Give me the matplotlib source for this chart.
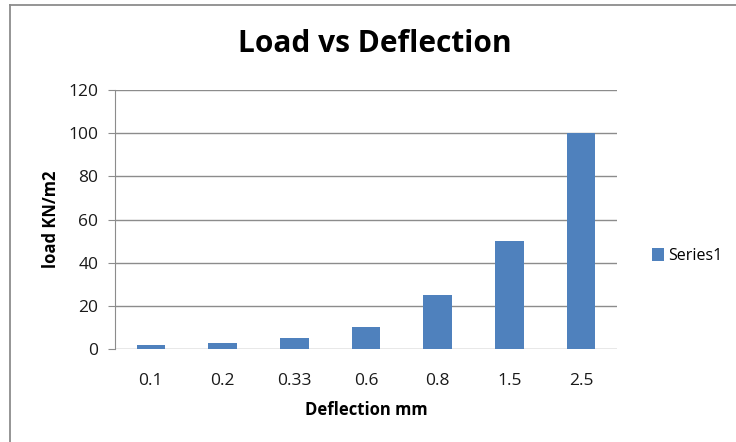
import matplotlib
matplotlib.use("Agg")
import matplotlib.pyplot as plt
from matplotlib.lines import Line2D
import numpy as np

plt.rcParams["font.family"] = ["Open Sans", "DejaVu Sans"]

deflection = ["0.1", "0.2", "0.33", "0.6", "0.8", "1.5", "2.5"]
load = [2, 3, 5, 10, 25, 50, 100]
series_name = "Series1"
yticks = [0, 20, 40, 60, 80, 100, 120]

W, H = 736, 442
fig = plt.figure(figsize=(W / 100, H / 100), dpi=100)
fig.patch.set_facecolor("white")

# chart-area border: only the top and left edges are inside the crop
fig.add_artist(Line2D([10 / W, 10 / W], [0, 1 - 5 / H], transform=fig.transFigure,
                      color="#8c8c8c", linewidth=1.3))
fig.add_artist(Line2D([10 / W, 1], [1 - 5 / H, 1 - 5 / H], transform=fig.transFigure,
                      color="#8c8c8c", linewidth=1.3))

ax = fig.add_axes([115 / W, 1 - 349 / H, (617 - 115) / W, (349 - 90) / H])
x = np.arange(len(deflection))
ax.bar(x, load, width=0.4, color="#4f81bd", label=series_name, zorder=3)

ax.set_xlim(-0.5, len(deflection) - 0.5)
ax.set_ylim(0, 120)
ax.set_yticks(yticks)
ax.set_xticks(x)
ax.set_xticklabels(deflection)
ax.yaxis.grid(True, color="#8c8c8c", linewidth=1.0, zorder=0)
for s in ["top", "right", "bottom"]:
    ax.spines[s].set_visible(False)
ax.spines["left"].set_color("#8c8c8c")
ax.tick_params(axis="y", length=5, color="#8c8c8c", labelsize=12.5, pad=7,
               labelcolor="#1a1a1a")
ax.tick_params(axis="x", length=0, labelsize=12.5, pad=17, labelcolor="#1a1a1a")

ax.set_xlabel("Deflection mm", fontsize=12, fontweight="bold", labelpad=9)
ax.set_ylabel("load KN/m2", fontsize=12, fontweight="bold", labelpad=6)

fig.text(375 / W, 1 - 44 / H, "Load vs Deflection", ha="center", va="center",
         fontsize=21.5, fontweight="bold")

ax.legend(loc="center left", bbox_to_anchor=(652 / W, 1 - 256 / H),
          bbox_transform=fig.transFigure, frameon=False, fontsize=11.5,
          handlelength=0.75, handleheight=0.8, handletextpad=0.25,
          borderaxespad=0, borderpad=0)

fig.savefig("out.png", dpi=100, facecolor="white")
